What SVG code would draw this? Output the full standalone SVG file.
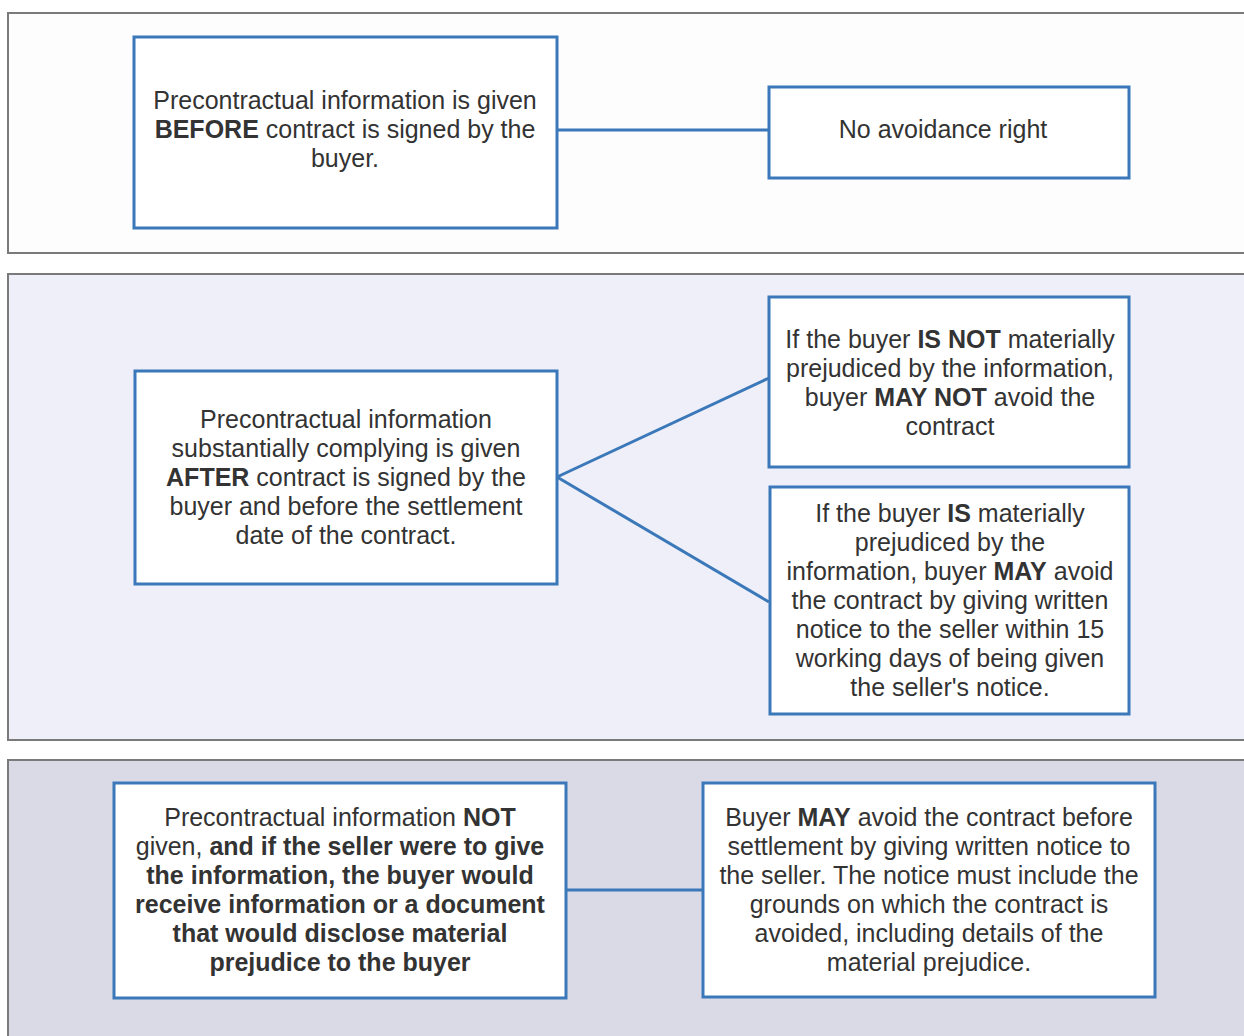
<svg xmlns="http://www.w3.org/2000/svg" width="1244" height="1036" viewBox="0 0 1244 1036">
<style>
.panel{stroke:#7a7a7a;stroke-width:2}
.box{fill:#ffffff;stroke:#3b78b9;stroke-width:3}
.conn{stroke:#3b78b9;stroke-width:3;fill:none}
text{font-family:"Liberation Sans",Arial,sans-serif;font-size:25px;fill:#333333;text-anchor:middle}
.b{font-weight:bold}
</style>
<rect width="1244" height="1036" fill="#ffffff"/>
<g id="panel1"><rect class="panel" x="8" y="13" width="1250" height="240" fill="#fdfdfd"/></g>
<g id="panel2"><rect class="panel" x="8" y="274" width="1250" height="466" fill="#eeeff8"/></g>
<g id="panel3"><rect class="panel" x="8" y="760" width="1250" height="290" fill="#d9dae6"/></g>
<g id="connectors">
<line class="conn" x1="557" y1="130" x2="769" y2="130"/>
<line class="conn" x1="557" y1="477" x2="769" y2="378"/>
<line class="conn" x1="557" y1="477" x2="769" y2="602"/>
<line class="conn" x1="566" y1="890" x2="703" y2="890"/>
</g>
<g id="nodeA">
<rect class="box" x="134" y="37" width="423" height="191"/>
<text x="345" y="109">Precontractual information is given</text>
<text x="345" y="138"><tspan class="b">BEFORE</tspan> contract is signed by the</text>
<text x="345" y="167">buyer.</text>
</g>
<g id="nodeB">
<rect class="box" x="769" y="87" width="360" height="91"/>
<text x="943" y="138">No avoidance right</text>
</g>
<g id="nodeC">
<rect class="box" x="135" y="371" width="422" height="213"/>
<text x="346" y="428">Precontractual information</text>
<text x="346" y="457">substantially complying is given</text>
<text x="346" y="486"><tspan class="b">AFTER</tspan> contract is signed by the</text>
<text x="346" y="515">buyer and before the settlement</text>
<text x="346" y="544">date of the contract.</text>
</g>
<g id="nodeD">
<rect class="box" x="769" y="297" width="360" height="170"/>
<text x="950" y="348">If the buyer <tspan class="b">IS NOT</tspan> materially</text>
<text x="950" y="377">prejudiced by the information,</text>
<text x="950" y="406">buyer <tspan class="b">MAY NOT</tspan> avoid the</text>
<text x="950" y="435">contract</text>
</g>
<g id="nodeE">
<rect class="box" x="770" y="487" width="359" height="227"/>
<text x="950" y="522">If the buyer <tspan class="b">IS</tspan> materially</text>
<text x="950" y="551">prejudiced by the</text>
<text x="950" y="580">information, buyer <tspan class="b">MAY</tspan> avoid</text>
<text x="950" y="609">the contract by giving written</text>
<text x="950" y="638">notice to the seller within 15</text>
<text x="950" y="667">working days of being given</text>
<text x="950" y="696">the seller's notice.</text>
</g>
<g id="nodeF">
<rect class="box" x="114" y="783" width="452" height="215"/>
<text x="340" y="826">Precontractual information <tspan class="b">NOT</tspan></text>
<text x="340" y="855">given, <tspan class="b">and if the seller were to give</tspan></text>
<text x="340" y="884" class="b">the information, the buyer would</text>
<text x="340" y="913" class="b">receive information or a document</text>
<text x="340" y="942" class="b">that would disclose material</text>
<text x="340" y="971" class="b">prejudice to the buyer</text>
</g>
<g id="nodeG">
<rect class="box" x="703" y="783" width="452" height="214"/>
<text x="929" y="826">Buyer <tspan class="b">MAY</tspan> avoid the contract before</text>
<text x="929" y="855">settlement by giving written notice to</text>
<text x="929" y="884">the seller. The notice must include the</text>
<text x="929" y="913">grounds on which the contract is</text>
<text x="929" y="942">avoided, including details of the</text>
<text x="929" y="971">material prejudice.</text>
</g>
</svg>
